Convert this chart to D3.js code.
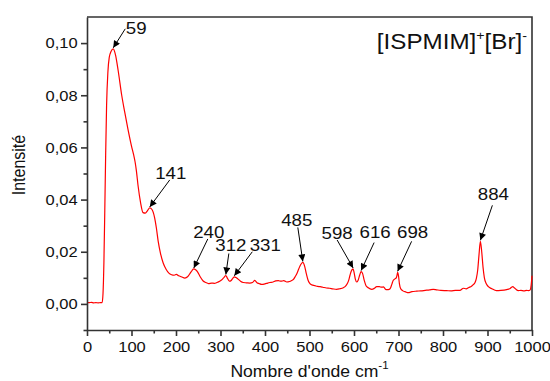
<!DOCTYPE html>
<html>
<head>
<meta charset="utf-8">
<script src="https://cdn.jsdelivr.net/npm/d3@7"></script>
<style>
  html, body { margin: 0; padding: 0; background: #fff; }
  svg { display: block; font-family: "Liberation Sans", Arial, sans-serif; }
</style>
</head>
<body>
<svg id="chart" width="550" height="381"></svg>
<script>
// Raman spectrum of [ISPMIM]+[Br]- : wavenumber (cm-1) and intensity
const wavenumber = [0, 5, 10, 15, 20, 25, 30, 34, 36, 38, 40, 42, 44, 47, 50, 54, 59, 64, 70, 78, 85, 92, 100, 105, 108, 111, 115, 120, 126, 131, 136, 141, 146, 152, 156, 160, 165, 171, 178, 184, 190, 196, 201, 206, 212, 220, 226, 232, 236, 240, 244, 248, 254, 261, 267, 273, 280, 286, 292, 299, 304, 308, 312, 315, 320, 324, 328, 331, 335, 339, 345, 351, 358, 366, 372, 377, 382, 387, 392, 400, 406, 411, 418, 424, 430, 436, 442, 449, 455, 460, 464, 468, 472, 476, 480, 485, 489, 493, 497, 501, 505, 512, 518, 524, 530, 538, 545, 552, 561, 568, 576, 581, 585, 588, 591, 594, 596, 598, 600, 603, 606, 609, 613, 616, 619, 623, 627, 632, 640, 646, 651, 657, 662, 666, 669, 672, 677, 681, 685, 688, 692, 695, 697, 698, 700, 702, 705, 710, 716, 722, 730, 741, 750, 760, 770, 778, 786, 795, 808, 818, 828, 838, 846, 852, 858, 864, 868, 872, 875, 878, 881, 884, 887, 890, 893, 897, 902, 910, 920, 930, 943, 950, 954, 957, 960, 964, 969, 975, 982, 988, 992, 996, 998, 1000];
const intensity = [0.0006, 0.0005, 0.0006, 0.0004, 0.0005, 0.0004, 0.0005, 0.0005, 0.004, 0.016, 0.036, 0.058, 0.076, 0.089, 0.0945, 0.0968, 0.0978, 0.0955, 0.0895, 0.0800, 0.0733, 0.0670, 0.0605, 0.0570, 0.0545, 0.0510, 0.0450, 0.0392, 0.0350, 0.0348, 0.0358, 0.0368, 0.0362, 0.0330, 0.0290, 0.0240, 0.0195, 0.0158, 0.0132, 0.0118, 0.0112, 0.0110, 0.0113, 0.0108, 0.0104, 0.0099, 0.0104, 0.0118, 0.0128, 0.0134, 0.0131, 0.0124, 0.0105, 0.0088, 0.0082, 0.0078, 0.0080, 0.0079, 0.0082, 0.0088, 0.0094, 0.0102, 0.0109, 0.0100, 0.0087, 0.0090, 0.0099, 0.0104, 0.0101, 0.0096, 0.0087, 0.0082, 0.0081, 0.0080, 0.0082, 0.0090, 0.0081, 0.0078, 0.0075, 0.0077, 0.0080, 0.0082, 0.0084, 0.0088, 0.0089, 0.0087, 0.0089, 0.0084, 0.0086, 0.0090, 0.0094, 0.0105, 0.0118, 0.0135, 0.0150, 0.0159, 0.0145, 0.0115, 0.0090, 0.0078, 0.0073, 0.0070, 0.0067, 0.0066, 0.0064, 0.0061, 0.0060, 0.0058, 0.0056, 0.0058, 0.0062, 0.0068, 0.0078, 0.0090, 0.0110, 0.0126, 0.0132, 0.0134, 0.0122, 0.0095, 0.0084, 0.0090, 0.0112, 0.0124, 0.0118, 0.0090, 0.0070, 0.0062, 0.0056, 0.0060, 0.0066, 0.0066, 0.0064, 0.0065, 0.0060, 0.0055, 0.0055, 0.0058, 0.0075, 0.0090, 0.0096, 0.0100, 0.0112, 0.0121, 0.0108, 0.0078, 0.0058, 0.0050, 0.0046, 0.0043, 0.0047, 0.0049, 0.0050, 0.0052, 0.0054, 0.0056, 0.0054, 0.0052, 0.0051, 0.0050, 0.0052, 0.0052, 0.0060, 0.0058, 0.0063, 0.0068, 0.0074, 0.0082, 0.0098, 0.0130, 0.0190, 0.0240, 0.0200, 0.0140, 0.0100, 0.0078, 0.0066, 0.0058, 0.0051, 0.0052, 0.0055, 0.0058, 0.0064, 0.0066, 0.0062, 0.0056, 0.0051, 0.0052, 0.0050, 0.0052, 0.0051, 0.0054, 0.0070, 0.0108];

// Annotated band positions (cm-1)
const peakLabels = [59, 141, 240, 312, 331, 485, 598, 616, 698, 884];

// Axis ticks
const xTicks = [0, 100, 200, 300, 400, 500, 600, 700, 800, 900, 1000];
const xMinorTicks = [50, 150, 250, 350, 450, 550, 650, 750, 850, 950];
const yTicks = [0, 0.02, 0.04, 0.06, 0.08, 0.10];
const yMinorTicks = [-0.01, 0.01, 0.03, 0.05, 0.07, 0.09];

const seriesName = "[ISPMIM]";
const anionName = "[Br]";

// Label placement for each annotation, in pixels relative to the peak:
// [text dx, text dy, arrow-start dx, arrow-start dy]
const labelLayout = {
  59:  [23, -20, 12, -19],
  141: [21, -34, 20, -27],
  240: [15, -36, 14, -29],
  312: [5, -29, 3, -21],
  331: [31, -31, 18, -24],
  485: [-6, -41, -5, -34],
  598: [-16, -35, -16, -28],
  616: [14, -39, 13, -28],
  698: [15, -39, 14, -30],
  884: [13, -46, 12, -35]
};

const svg = d3.select("#chart");
const plotLeft = 87, plotRight = 532, plotTop = 17, plotBottom = 330;
const SX = 1.1; // horizontal text stretch

const x = d3.scaleLinear().domain([0, 1000]).range([plotLeft, plotRight]);
const y = d3.scaleLinear().domain([-0.01, 0.11]).range([plotBottom, plotTop]);

const axisColor = "#333";
const fmt = d => d3.format(".2f")(d).replace(".", ",");

// frame (top and right)
svg.append("path")
  .attr("d", `M${plotLeft},${plotTop}H${plotRight}V${plotBottom}`)
  .attr("fill", "none").attr("stroke", axisColor).attr("stroke-width", 1.6);

// spectrum
const pts = wavenumber.map((w, i) => [w, intensity[i]]);
svg.append("path")
  .datum(pts)
  .attr("fill", "none")
  .attr("stroke", "#ff0000")
  .attr("stroke-width", 1.2)
  .attr("stroke-linejoin", "round")
  .attr("d", d3.line().x(d => x(d[0])).y(d => y(d[1])).curve(d3.curveMonotoneX));

// x axis
svg.append("g").attr("transform", `translate(0,${plotBottom})`)
  .call(d3.axisBottom(x).tickValues(xTicks).tickSize(6).tickSizeOuter(0).tickPadding(5.5).tickFormat(d3.format("d")));
svg.append("g").attr("transform", `translate(0,${plotBottom})`)
  .call(d3.axisBottom(x).tickValues(xMinorTicks).tickSize(3.5).tickSizeOuter(0).tickFormat(""))
  .call(g => g.select(".domain").remove());

// y axis
svg.append("g").attr("transform", `translate(${plotLeft},0)`)
  .call(d3.axisLeft(y).tickValues(yTicks).tickSize(6).tickSizeOuter(0).tickPadding(2.5).tickFormat(fmt));
svg.append("g").attr("transform", `translate(${plotLeft},0)`)
  .call(d3.axisLeft(y).tickValues(yMinorTicks).tickSize(3.5).tickSizeOuter(0).tickFormat(""))
  .call(g => g.select(".domain").remove());

svg.selectAll(".domain, .tick line").attr("stroke", axisColor).attr("stroke-width", 1.6);
svg.selectAll(".tick text")
  .attr("fill", "#111")
  .attr("font-size", 15)
  .attr("font-family", "Liberation Sans, Arial, sans-serif")
  .attr("transform", `scale(${SX},1)`);

// axis titles
svg.append("text")
  .attr("transform", `translate(${(plotLeft + plotRight) / 2},376.5) scale(${SX},1)`)
  .attr("text-anchor", "middle")
  .attr("font-size", 16).attr("fill", "#111")
  .call(t => {
    t.append("tspan").text("Nombre d'onde cm");
    t.append("tspan").attr("font-size", 10.5).attr("dy", -7.5).text("-1");
  });

svg.append("text")
  .attr("transform", `translate(25,165) scale(${SX},1) rotate(-90)`)
  .attr("text-anchor", "middle")
  .attr("font-size", 16).attr("fill", "#111")
  .text("Intensité");

// series name
svg.append("text")
  .attr("transform", `translate(527,49) scale(${SX},1)`)
  .attr("text-anchor", "end")
  .attr("font-size", 22).attr("fill", "#111")
  .call(t => {
    t.append("tspan").text(seriesName);
    t.append("tspan").attr("font-size", 13).attr("dy", -9).text("+");
    t.append("tspan").attr("dy", 9).text(anionName);
    t.append("tspan").attr("font-size", 13).attr("dy", -9).text("-");
  });

// arrow marker
svg.append("defs").append("marker")
  .attr("id", "arrow")
  .attr("viewBox", "0 0 10 10")
  .attr("refX", 10).attr("refY", 5)
  .attr("markerUnits", "userSpaceOnUse")
  .attr("markerWidth", 9).attr("markerHeight", 7)
  .attr("orient", "auto")
  .append("path").attr("d", "M0,0L10,5L0,10z").attr("fill", "#000");

// peak annotations
const valueAt = w => {
  const i = wavenumber.indexOf(w);
  if (i >= 0) return intensity[i];
  const j = d3.bisectLeft(wavenumber, w);
  const t = (w - wavenumber[j - 1]) / (wavenumber[j] - wavenumber[j - 1]);
  return intensity[j - 1] + t * (intensity[j] - intensity[j - 1]);
};

const ann = svg.append("g");
peakLabels.forEach(p => {
  const px = x(p), py = y(valueAt(p)) - 1;
  const [tdx, tdy, sdx, sdy] = labelLayout[p];
  ann.append("line")
    .attr("x1", px + sdx).attr("y1", py + sdy)
    .attr("x2", px).attr("y2", py)
    .attr("stroke", "#000").attr("stroke-width", 1)
    .attr("marker-end", "url(#arrow)");
  ann.append("text")
    .attr("transform", `translate(${px + tdx},${py + tdy + 6}) scale(${SX},1)`)
    .attr("text-anchor", "middle")
    .attr("font-size", 17).attr("fill", "#111")
    .text(p);
});
</script>
</body>
</html>
